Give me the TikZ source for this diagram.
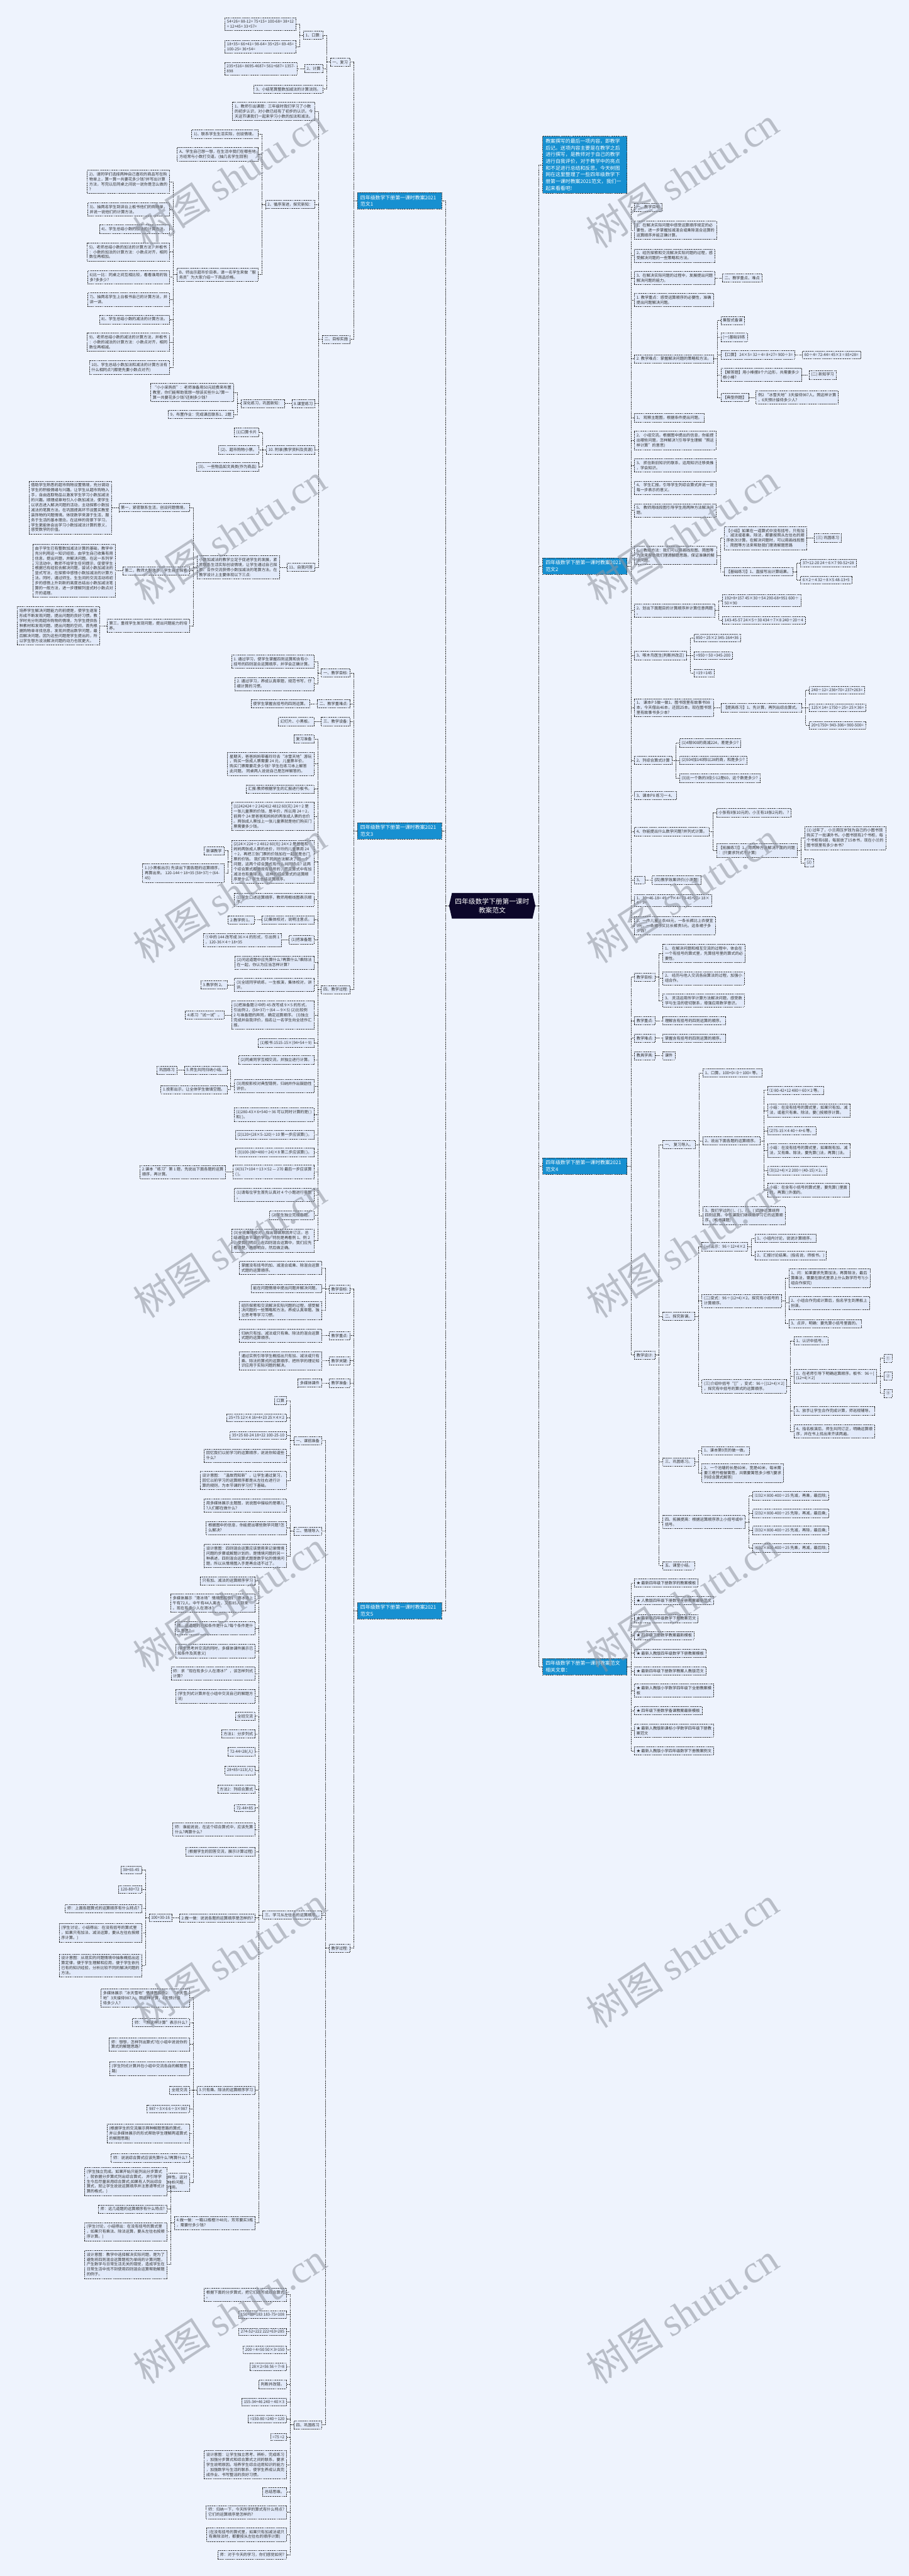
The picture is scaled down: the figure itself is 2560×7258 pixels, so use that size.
\documentclass[tikz,border=0pt]{standalone}
\usepackage{fontspec}
\setmainfont{Noto Sans CJK SC}
\newfontfamily\wmserif{Liberation Serif}
\usepackage{xcolor}
\usepackage{tikz}
\definecolor{TBg}{HTML}{EEF3FD}
\definecolor{TLeaf}{HTML}{E2EAFA}
\definecolor{TLine}{HTML}{2A2A2A}
\definecolor{TText}{HTML}{333333}
\definecolor{TBlue}{HTML}{1790D1}
\definecolor{TRoot}{HTML}{0C0729}
\definecolor{TMark}{HTML}{8E939E}

\begin{document}
\begin{tikzpicture}[
  x=1pt,y=-1pt,
  box/.style={draw=TLine,fill=TLeaf,line width=1.1pt,dash pattern=on 3pt off 2pt,
    text=TText,font=\fontsize{11}{14}\selectfont,align=left,
    inner xsep=6pt,inner ysep=6.5pt},
  lf/.style={box,anchor=east,xshift=-20pt},
  rf/.style={box,anchor=west,xshift=20pt},
  bl/.style={draw=TLine,fill=TBlue,line width=1.1pt,dash pattern=on 3pt off 2pt,
    text=white,font=\fontsize{14}{19}\selectfont,align=left,text width=221pt,
    inner xsep=8pt,inner ysep=7pt},
  blL/.style={bl,anchor=east,xshift=-20pt},
  blR/.style={bl,anchor=west,xshift=20pt},
  root/.style={text=white,font=\fontsize{19}{25}\selectfont,align=center,
    minimum width=243pt,minimum height=72pt,inner sep=0pt},
  cn/.style={draw=TLine,line width=1.1pt,dash pattern=on 3pt off 2pt},
  wm/.style={text=TMark,opacity=0.55,rotate=33,font=\fontsize{110}{110}\selectfont}
]
\useasboundingbox (0,0) rectangle (2560,7258);
\fill[TBg] (0,0) rectangle (2560,7258);

% centre
\fill[TRoot] (1273,2516) -- (1500,2516) -- (1508,2552) -- (1500,2588)
  -- (1273,2588) -- (1265,2552) -- cycle;
\node[root] (root) at (1386.5,2552) {四年级数学下册第一课时\\教案范文};

% ---------------- 范文1 ----------------
\node[blL] (f1) at (root.west |- 0,566) {四年级数学下册第一课时教案2021\\范文1};
\node[lf] (f1a) at (f1.west |- 0,175) {一、复习};
\node[lf] (f1a1) at (f1a.west |- 0,99) {1、口算:};
\node[lf] (f1a1a) at (f1a1.west |- 0,68) {54+26= 88-12= 75+15= 100-68= 38+12\\= 12+45= 33+57=};
\node[lf] (f1a1b) at (f1a1.west |- 0,131) {18+35= 66+41= 98-64= 35+25= 69-45=\\100-25= 36+54=};
\node[lf] (f1a2) at (f1a.west |- 0,193) {2、计算};
\node[lf] (f1a2a) at (f1a2.west |- 0,193) {235+516= 8695-4687= 561+687= 1357-\\898};
\node[lf] (f1a3) at (f1a.west |- 0,251) {3、小结笔算整数加减法的计算法则。};
\node[lf] (f1b) at (f1.west |- 0,956) {二、目标实施};
\node[lf] (f1b1) at (f1b.west |- 0,314) {1、教师引出课题：三年级时我们学习了小数\\的初步认识，对小数已经有了初步的认识。今\\天这节课我们一起来学习小数的加法和减法。};
\node[lf] (f1b2) at (f1b.west |- 0,576) {2、循序渐进，探究新知：};
\node[lf] (f1b2a) at (f1b2.west |- 0,378) {1)、联系学生生活实际，创设情境。};
\node[lf] (f1b2b) at (f1b2.west |- 0,435) {A、学生自己想一想，在生活中我们在哪些地\\方经常与小数打交道。(抽几名学生回答)};
\node[lf] (f1b2c) at (f1b2.west |- 0,774) {B、师出示超市价目表，请一名学生来做“服\\务员”为大家介绍一下商品价格。};
\node[lf] (f1b2c1) at (f1b2c.west |- 0,512) {2)、请同学们选择两种自己喜欢的商品写在购\\物单上，算一算一共要花多少钱?并写出计算\\方法，写完以后同桌之间说一说你是怎么做的\\?};
\node[lf] (f1b2c2) at (f1b2c.west |- 0,590) {3)、抽两名学生到讲台上板书他们的购物单，\\并说一说他们的计算方法。};
\node[lf] (f1b2c3) at (f1b2c.west |- 0,646) {4)、学生总结小数的加法的计算方法。};
\node[lf] (f1b2c4) at (f1b2c.west |- 0,710) {5)、老师总结小数的加法的计算方法，并板书\\：小数的加法的计算方法：小数点对齐，相同\\数位再相加。};
\node[lf] (f1b2c5) at (f1b2c.west |- 0,781) {6)比一比：同桌之间互相比较，看看谁用的钱\\多?多多少?};
\node[lf] (f1b2c6) at (f1b2c.west |- 0,844) {7)、抽两名学生上台板书自己的计算方法，并\\讲一讲。};
\node[lf] (f1b2c7) at (f1b2c.west |- 0,900) {8)、学生总结小数的减法的计算方法。};
\node[lf] (f1b2c8) at (f1b2c.west |- 0,964) {9)、老师总结小数的减法的计算方法，并板书\\：小数的减法的计算方法：小数点对齐，相同\\数位再相减。};
\node[lf] (f1b2c9) at (f1b2c.west |- 0,1035) {10)、学生总结小数加法和减法的计算方法有\\什么相同点?(都是先要小数点对齐)};
\node[lf] (f1b3) at (f1b.west |- 0,1137) {8.课堂练习};
\node[lf] (f1b3a) at (f1b3.west |- 0,1137) {深化练习，巩固新知：};
\node[lf] (f1b3a1) at (f1b3a.west |- 0,1106) {“小小采购员”：老师准备用50元班费来布置\\教室，你们能帮助我想一想该买些什么?算一\\算一共要花多少钱?还剩多少钱?};
\node[lf] (f1b3a2) at (f1b3a.west |- 0,1168) {9，布置作业：完成课后联系1、2题};
\node[lf] (f1b4) at (f1b.west |- 0,1267) {10. 附录(教学资料及资源)};
\node[lf] (f1b4a) at (f1b4.west |- 0,1218) {(1)口算卡片};
\node[lf] (f1b4b) at (f1b4.west |- 0,1267) {(2)、超市购物小票。};
\node[lf] (f1b4c) at (f1b4.west |- 0,1316) {(3)、一些物品如文具类(作为商品)};
\node[lf] (f1b5) at (f1b.west |- 0,1598) {11、自我问答};
\node[lf] (f1b5a) at (f1b5.west |- 0,1598) {小数加减法的教学立足于促进学生的发展，紧\\密联系生活实际创设情境，让学生通过自己探\\索、合作交流获得小数加减法的笔算方法。在\\教学设计上主要体现以下三点:};
\node[lf] (f1b5a1) at (f1b5a.west |- 0,1430) {第一，紧密联系生活，创设问题情境。};
\node[lf] (f1b5a1a) at (f1b5a1.west |- 0,1430) {借助学生熟悉的超市购物设置情境，充分调动\\学生的积极情绪与兴趣。让学生从超市购物入\\手，自由选取物品以激发学生学习小数加减法\\的兴趣。顺理成章地引入小数加减法，使学生\\以状态进入解决问题的活动，主动探索小数加\\减法的笔算方法。在巩固提高环节设置买教室\\装饰物的问题情境。体现数学来源于生活，服\\务于生活的基本理念。在这样的背景下学习，\\学生更能体会出学习小数加减法计算的意义，\\感受数学的价值。};
\node[lf] (f1b5a2) at (f1b5a.west |- 0,1608) {第二，教师大胆放手，学生自主探索};
\node[lf] (f1b5a2a) at (f1b5a2.west |- 0,1608) {由于学生已有整数加减法计算的基础，教学中\\充分利用这一知识经验，由学生自己收集有用\\信息，提出问题，并解决问题。在这一系列学\\习活动中，教师不给学生任何提示，促使学生\\根据已有经验去解决问题，尝试小数加减法的\\竖式写法，在探索中感悟小数加减法的计算方\\法。同时，通过师生、生生间的交流活动将初\\步的感悟上升到新的高度总结出小数加减法笔\\算的一般方法，进一步理解列竖式时小数点对\\齐的道理。};
\node[lf] (f1b5a3) at (f1b5a.west |- 0,1763) {第三，重视学生发现问题，提出问题能力的培\\养。};
\node[lf] (f1b5a3a) at (f1b5a3.west |- 0,1763) {培养学生解决问题能力的前提是，使学生逐渐\\形成不断发现问题，提出问题的良好习惯。教\\学时充分利用超市购物的情境，为学生提供各\\种素材和发现问题、提出问题的空间，首先根\\据购物单寻找信息，发现并提出数学问题，最\\后解决问题。因为这些问题是学生提出的，所\\以学生想方设法解决问题的动力也就更大。};

% ---------------- 范文3 ----------------
\node[blL] (f3) at (root.west |- 0,2341) {四年级数学下册第一课时教案2021\\范文3};
\node[lf] (f3a) at (f3.west |- 0,1896) {一、教学目标:};
\node[lf] (f3a1) at (f3a.west |- 0,1864) {1. 通过学习，使学生掌握四则运算和含有小\\括号的四则混合运算顺序，并学会正确计算。};
\node[lf] (f3a2) at (f3a.west |- 0,1927) {2. 通过学习，养成认真审题，规范书写，仔\\细计算的习惯。};
\node[lf] (f3b) at (f3.west |- 0,1983) {二、教学重难点:};
\node[lf] (f3b1) at (f3b.west |- 0,1983) {使学生掌握含括号的四则运算。};
\node[lf] (f3c) at (f3.west |- 0,2033) {三、教学设备:};
\node[lf] (f3c1) at (f3c.west |- 0,2033) {幻灯片、小黑板。};
\node[lf] (f3d) at (f3.west |- 0,2788) {四、教学过程:};
\node[lf] (f3d1) at (f3d.west |- 0,2082) {复习准备};
\node[lf] (f3d2) at (f3d.west |- 0,2152) {星期天，爸爸妈妈带着玲玲去“冰雪天地”游玩\\，购买一张成人票需要 24 元，儿童票半价。\\购买门票需要花多少钱? 学生在练习本上解答\\此问题。 同桌两人说说自己是怎样解答的。};
\node[lf] (f3d3) at (f3d.west |- 0,2223) {汇报:教师根据学生的汇报进行板书。};
\node[lf] (f3d4) at (f3d.west |- 0,2300) {(1)242424÷2 242412 4812 60(元) 24÷2 是\\一张儿童票的价钱，是半价，所以用 24÷2，\\前两个 24 是爸爸和妈妈的两张成人票的总价\\。两张成人票加上一张儿童票就是他们购买门\\票需要多少钱。};
\node[lf] (f3d5) at (f3d.west |- 0,2428) {(2)24×224÷2 4812 60(元) 24×2 是爸爸和\\妈妈两张成人票的总价，玲玲的儿童票用 24\\÷2，再把三张门票的价钱加在一起就是总门\\票的价钱。 我们用不同的方法解决了同一个\\问题，这两个综合算式有什么共同特点? 这两\\个综合算式都是没有括号的，而且算式中有加\\减法也有乘除法。 这样的综合算式的运算顺\\序是什么? 学生总结运算顺序。};
\node[lf] (f3d5a) at (f3d5.west |- 0,2397) {新课教学};
\node[lf] (f3d5b) at (f3d5.west |- 0,2460) {1.(小黑板出示) 先读出下面各题的运算顺序，\\再算出来。 120-144÷18+35 (58+37)÷(64-\\45)};
\node[lf] (f3d6) at (f3d.west |- 0,2535) {(1)学生口述运算顺序，教师用框线图表示顺\\序。};
\node[lf] (f3d7) at (f3d.west |- 0,2592) {(2)集体校对，说明注意点。};
\node[lf] (f3d7a) at (f3d7.west |- 0,2592) {2.教学例 1。};
\node[lf] (f3d8) at (f3d.west |- 0,2648) {(1)把准备题};
\node[lf] (f3d8a) at (f3d8.west |- 0,2648) {①中的 144 改写成 36×4 的形式，引出例 1\\，120-36×4÷18+35};
\node[lf] (f3d9) at (f3d.west |- 0,2712) {(2)问这道题中应先算什么?再算什么?乘除法\\在一起，你认为应当怎样计算?};
\node[lf] (f3d10) at (f3d.west |- 0,2775) {(3)全班同学统练，一生板演，集体校对，讲\\评。};
\node[lf] (f3d10a) at (f3d10.west |- 0,2775) {3.教学例 2。};
\node[lf] (f3d11) at (f3d.west |- 0,2860) {(1)把准备题②中的 45 改写成 9×5 的形式，\\引出例 2，(58+37)÷(64 — 9×5) (2)比较例\\2 与准备题的异同，确定运算顺序。 (3)独立\\完成并自我评价，指名让一名学生向全班作汇\\报。};
\node[lf] (f3d11a) at (f3d11.west |- 0,2860) {4.练习“试一试”。};
\node[lf] (f3d12) at (f3d.west |- 0,2938) {(1)板书:1515-15×(94+54÷9)};
\node[lf] (f3d13) at (f3d.west |- 0,2987) {(2)同桌同学互相交流，并独立进行计算。};
\node[lf] (f3d14) at (f3d.west |- 0,3060) {(3)用投影校对典型错例，归纳并作出鼓励性\\评价。};
\node[lf] (f3d14a) at (f3d14.west |- 0,3015) {5.师生共同归纳小结。};
\node[lf] (f3d14a1) at (f3d14a.west |- 0,3015) {巩固练习};
\node[lf] (f3d14b) at (f3d14.west |- 0,3070) {1.投影出示，让全体学生做填空题。};
\node[lf] (f3d15) at (f3d.west |- 0,3141) {(1)280-43×6+540÷36 可以同时计算的是( )\\和( )。};
\node[lf] (f3d16) at (f3d.west |- 0,3197) {(2)120+(28×5-120)÷10 第一步应该算( )。};
\node[lf] (f3d17) at (f3d.west |- 0,3247) {(3)100-(80+480÷24)×8 第二步应该算( )。};
\node[lf] (f3d18) at (f3d.west |- 0,3302) {(4)317+104÷13×52 — 270 最后一步应该算\\( )。};
\node[lf] (f3d18a) at (f3d18.west |- 0,3302) {2.课本“练习”第 1 题，先说出下面各题的运算\\顺序，再计算。};
\node[lf] (f3d19) at (f3d.west |- 0,3367) {(1)请每位学生首先认真对 4 个小题进行审题\\。};
\node[lf] (f3d20) at (f3d.west |- 0,3424) {(2)学生独立完成各题。};
\node[lf] (f3d21) at (f3d.west |- 0,3495) {(3)全班集体校对，指出错误原因并订正。总\\结通过本节课的学习，特别是再看例 1、例 2\\，使我们明白，在四则混合运算中，我们应先\\看清楚，再想明白，然后做正确。};

% ---------------- 范文5 ----------------
\node[blL] (f5) at (root.west |- 0,4538) {四年级数学下册第一课时教案2021\\范文5};
\node[lf] (f5a) at (f5.west |- 0,3632) {教学目标:};
\node[lf] (f5a1) at (f5a.west |- 0,3572) {掌握没有括号的加、减混合或乘、除混合运算\\式题的运算顺序。};
\node[lf] (f5a2) at (f5a.west |- 0,3630) {能在问题情境中提出问题并解决问题。};
\node[lf] (f5a3) at (f5a.west |- 0,3692) {经历探索和交流解决实际问题的过程，感受解\\决问题的一些策略和方法。养成认真审题、独\\立思考等学习习惯。};
\node[lf] (f5b) at (f5.west |- 0,3763) {教学重点:};
\node[lf] (f5b1) at (f5b.west |- 0,3763) {归纳只有加、减法或只有乘、除法的混合运算\\式题的运算顺序。};
\node[lf] (f5c) at (f5.west |- 0,3834) {教学关键:};
\node[lf] (f5c1) at (f5c.west |- 0,3834) {通过实例引导学生概括出只有加、减法或只有\\乘、除法的算式的运算顺序，把所学的理论知\\识应用于实际问题的解决。};
\node[lf] (f5d) at (f5.west |- 0,3897) {教学准备:};
\node[lf] (f5d1) at (f5d.west |- 0,3897) {多媒体课件};
\node[lf] (f5e) at (f5.west |- 0,5489) {教学过程:};
\node[lf] (f5e1) at (f5e.west |- 0,4059) {一、课前准备};
\node[lf] (f5e1a) at (f5e1.west |- 0,3946) {口算};
\node[lf] (f5e1b) at (f5e1.west |- 0,3995) {25+75 12×4 16+4+23 25×4×2};
\node[lf] (f5e1c) at (f5e1.west |- 0,4044) {35+25 60-24 18+22 100-25-10};
\node[lf] (f5e1d) at (f5e1.west |- 0,4101) {回忆我们以前学习的运算顺序，说说你知道些\\什么?};
\node[lf] (f5e1e) at (f5e1.west |- 0,4171) {设计意图：“温故而知新”，让学生通过复习，\\回忆以前学习的运算顺序都是从左往右进行计\\算的规则，为本节课的学习打下基础。};
\node[lf] (f5e2) at (f5e.west |- 0,4314) {二、情境导入};
\node[lf] (f5e2a) at (f5e2.west |- 0,4242) {用多媒体展示主题图，说说图中描绘的是哪儿\\?人们都在做什么?};
\node[lf] (f5e2b) at (f5e2.west |- 0,4305) {根据图中的信息，你能提出哪些数学问题?怎\\么解决?};
\node[lf] (f5e2c) at (f5e2.west |- 0,4384) {设计意图：四则混合运算应该是用来记录情境\\问题的步骤或解题计划的，是情境问题的另一\\种表述，四则混合运算式题是数字化的情境问\\题，所以从情境图入手是再合适不过了。};
\node[lf] (f5e3) at (f5e.west |- 0,5396) {三、学习从左往右的运算顺序。};
\node[lf] (f5e3a) at (f5e3.west |- 0,4454) {只有加、减法的运算顺序学习};
\node[lf] (f5e3b) at (f5e3.west |- 0,4517) {多媒体展示“滑冰场”情境图和例1：滑冰场上\\午有72人，中午有44人离去，又有85人到来\\。现在有多少人在滑冰?};
\node[lf] (f5e3c) at (f5e3.west |- 0,4588) {师：这道题的已知条件是什么?每个条件是什\\么意思?};
\node[lf] (f5e3d) at (f5e3.west |- 0,4652) {(学生思考并交流的同时，多媒体课件展示已\\知条件及其意义)};
\node[lf] (f5e3e) at (f5e3.west |- 0,4715) {师：求“现在有多少人在滑冰?”，该怎样列式\\计算?};
\node[lf] (f5e3f) at (f5e3.west |- 0,4779) {(学生列式计算并在小组中交流自己的解题方\\法)};
\node[lf] (f5e3g) at (f5e3.west |- 0,4835) {全班交流};
\node[lf] (f5e3h) at (f5e3.west |- 0,4885) {方法1：分步列式};
\node[lf] (f5e3i) at (f5e3.west |- 0,4935) {72-44=28(人)};
\node[lf] (f5e3j) at (f5e3.west |- 0,4988) {28+85=113(人)};
\node[lf] (f5e3k) at (f5e3.west |- 0,5041) {方法2：列综合算式};
\node[lf] (f5e3l) at (f5e3.west |- 0,5094) {72-44+85};
\node[lf] (f5e3m) at (f5e3.west |- 0,5155) {师：谁能说说，在这个综合算式中，应该先算\\什么?再算什么?};
\node[lf] (f5e3n) at (f5e3.west |- 0,5217) {(根据学生的回答交流，展示计算过程)};
\node[lf] (f5e3o) at (f5e3.west |- 0,5404) {2.做一做：说说各题的运算顺序是怎样的?};
\node[lf] (f5e3o1) at (f5e3o.west |- 0,5404) {100+30-16};
\node[lf] (f5e3o1a) at (f5e3o1.west |- 0,5269) {38+65-45};
\node[lf] (f5e3o1b) at (f5e3o1.west |- 0,5323) {120-80+72};
\node[lf] (f5e3o1c) at (f5e3o1.west |- 0,5377) {师：上面各题算式的运算顺序有什么特点?};
\node[lf] (f5e3o1d) at (f5e3o1.west |- 0,5446) {(学生讨论，小结得出：在没有括号的算式里\\，如果只有加法、减法运算，要从左往右按顺\\序计算。)};
\node[lf] (f5e3o1e) at (f5e3o1.west |- 0,5538) {设计意图：从现实的问题情境中抽象概括出运\\算定律，便于学生理解和应用，便于学生依托\\已有的知识经验，分析比较不同的解决问题的\\方法。};
\node[lf] (f5e3p) at (f5e3.west |- 0,5889) {3.只有乘、除法的运算顺序学习};
\node[lf] (f5e3p1) at (f5e3p.west |- 0,5629) {多媒体展示“冰天雪地”情境图和例2：“冰天雪\\地”3天接待987人，照这样计算，6天预计接\\待多少人?};
\node[lf] (f5e3p2) at (f5e3p.west |- 0,5699) {师：“照这样计算”表示什么?};
\node[lf] (f5e3p3) at (f5e3p.west |- 0,5760) {师：想想，怎样列出算式?在小组中说说你的\\算式的解题思路?};
\node[lf] (f5e3p4) at (f5e3p.west |- 0,5828) {(学生列式计算并在小组中交流各自的解题思\\路)};
\node[lf] (f5e3p5) at (f5e3p.west |- 0,5889) {全班交流};
\node[lf] (f5e3p6) at (f5e3p.west |- 0,5942) {987÷3×6 6÷3×987};
\node[lf] (f5e3p7) at (f5e3p.west |- 0,6011) {(根据学生的交流展示两种解题思路的算式，\\并以多媒体展示的形式帮助学生理解两道算式\\的解题思路)};
\node[lf] (f5e3p8) at (f5e3p.west |- 0,6080) {师：说说综合算式应该先算什么?再算什么?};
\node[lf] (f5e3p9) at (f5e3p.west |- 0,6149) {设计意图：注意解决问题策略的多样性。这对\\发展学生思维的灵活性，提高学生分析问题、\\解决问题的能力，都有一定的促进作用。};
\node[lf] (f5e3q) at (f5e3.west |- 0,6263) {4.做一做：一箱12瓶橙汁48元，芳芳要买3瓶\\，需要付多少钱?};
\node[lf] (f5e3q1) at (f5e3q.west |- 0,6147) {(学生独立完成。如果开始只能列出分步算式\\，就依据分步算式列出综合算式， 并引导学\\生今后尽量采用综合算式;如果有人列出综合\\算式，就让学生说说运算顺序并注意递等式计\\算的格式。)};
\node[lf] (f5e3q2) at (f5e3q.west |- 0,6224) {师：这几道题的运算顺序有什么特点?};
\node[lf] (f5e3q3) at (f5e3q.west |- 0,6288) {(学生讨论，小结得出：在没有括号的算式里\\，如果只有乘法、除法运算，要从左往右按顺\\序计算。)};
\node[lf] (f5e3q4) at (f5e3q.west |- 0,6380) {设计意图：教学中选择解决实际问题，是为了\\避免将四则混合运算题视为单纯的计算问题，\\产生数学与日常生活无关的错觉，造成学生在\\日常生活中找不到使用四则混合运算帮助解题\\的例子。};
\node[lf] (f5e4) at (f5e.west |- 0,6832) {四、巩固练习};
\node[lf] (f5e4a) at (f5e4.west |- 0,6465) {根据下面的分步算式，把它们改写成综合算式\\。};
\node[lf] (f5e4b) at (f5e4.west |- 0,6522) {150+33=183 183-75=108};
\node[lf] (f5e4c) at (f5e4.west |- 0,6570) {274-52=222 222+63=285};
\node[lf] (f5e4d) at (f5e4.west |- 0,6620) {200÷4=50 50×3=150};
\node[lf] (f5e4e) at (f5e4.west |- 0,6669) {28×2=56 56÷7=8};
\node[lf] (f5e4f) at (f5e4.west |- 0,6718) {判断并改错。};
\node[lf] (f5e4g) at (f5e4.west |- 0,6767) {155-34+46 240÷40×3};
\node[lf] (f5e4h) at (f5e4.west |- 0,6816) {=150-80 =240÷120};
\node[lf] (f5e4i) at (f5e4.west |- 0,6866) {=75 =2};
\node[lf] (f5e4j) at (f5e4.west |- 0,6944) {设计意图：让学生独立思考、辨析，完成练习\\，加强分步算式和综合算式之间的联系，要求\\学生说明原因。培养学生综合运用知识的能力\\，加强数学与生活的联系，使学生养成认真完\\成作业、书写整洁的良好习惯。};
\node[lf] (f5e4k) at (f5e4.west |- 0,7021) {总结思维。};
\node[lf] (f5e4l) at (f5e4.west |- 0,7078) {师：归纳一下，今天所学的算式有什么特点?\\它们的运算顺序是怎样的?};
\node[lf] (f5e4m) at (f5e4.west |- 0,7141) {(在没有括号的算式里，如果只有加减法或只\\有乘除法时，都要按从左往右的顺序计算)};
\node[lf] (f5e4n) at (f5e4.west |- 0,7198) {师：对于今天的学习，你们感觉如何?};

% ---------------- 导语 ----------------
\node[blR] (intro) at (root.east |- 0,464) {教案撰写的最后一项内容，即教学\\后记。送项内容主要是在教学之后\\进行撰写，是教师对于自己的教学\\进行自我评价，对于教学中的亮点\\和不足进行总结和反思。今天树图\\网在这里整理了一些四年级数学下\\册第一课时教案2021范文，我们一\\起来看看吧!};

% ---------------- 范文2 ----------------
\node[blR] (f2) at (root.east |- 0,1595) {四年级数学下册第一课时教案2021\\范文2};
\node[rf] (f2a) at (f2.east |- 0,584) {一、教学目标};
\node[rf] (f2b) at (f2.east |- 0,649) {1、在解决实际问题中感受运算顺序规定的必\\要性，进一步掌握加减混合或乘除混合运算的\\运算顺序并能正确计算。};
\node[rf] (f2c) at (f2.east |- 0,720) {2、经历探索和交流解决实际问题的过程，感\\受解决问题的一些策略和方法。};
\node[rf] (f2d) at (f2.east |- 0,783) {3、在解决实际问题的过程中，发展提出问题\\解决问题的能力。};
\node[rf] (f2d1) at (f2d.east |- 0,783) {二、教学重点、难点};
\node[rf] (f2e) at (f2.east |- 0,845) {1. 教学重点：感受运算顺序的必要性，准确\\提出问题解决问题。};
\node[rf] (f2f) at (f2.east |- 0,1011) {2. 教学难点：掌握解决问题的策略和方法。};
\node[rf] (f2f1) at (f2f.east |- 0,903) {集智式备课};
\node[rf] (f2f2) at (f2f.east |- 0,951) {(一)基础训练};
\node[rf] (f2f3) at (f2f.east |- 0,1000) {【口算】 24×5= 32÷4= 8+27= 900÷3=};
\node[rf] (f2f3a) at (f2f3.east |- 0,1000) {60÷4= 72-44= 45×3 = 85+28=};
\node[rf] (f2f4) at (f2f.east |- 0,1056) {【解答题】用小棒摆8个六边形，共需要多少\\根小棒?};
\node[rf] (f2f4a) at (f2f4.east |- 0,1056) {(二) 新知学习};
\node[rf] (f2f5) at (f2f.east |- 0,1120) {【典型例题】};
\node[rf] (f2f5a) at (f2f5.east |- 0,1120) {例2 “冰雪天地”3天接待987人。照这样计算\\，6天预计接待多少人?};
\node[rf] (f2g) at (f2.east |- 0,1177) {1、 观察主题图，根据条件提出问题。};
\node[rf] (f2h) at (f2.east |- 0,1241) {2、 小组交流。根据图中提出的信息，你能提\\出哪些问题，怎样解决?(引导学生理解“照这\\样计算”的意思)};
\node[rf] (f2i) at (f2.east |- 0,1311) {3、 抓住新旧知识的联系，运用知识迁移类推\\，学会知识。};
\node[rf] (f2j) at (f2.east |- 0,1374) {4、 学生汇报。引导学生列综合算式并说一说\\每一步表示的意义。};
\node[rf] (f2k) at (f2.east |- 0,1438) {5、 教师用线段图引导学生用两种方法解决问\\题。};
\node[rf] (f2l) at (f2.east |- 0,1565) {6、 教给方法：我们可以用画线段图、简图等\\方法来帮助我们理清解题思路，保证准确的解\\决问题。};
\node[rf] (f2l1) at (f2l.east |- 0,1516) {【小结】如果在一道算式中没有括号，只有加\\、减法或者乘、除法，都要按照从左往右的顺\\序依次计算。在解决问题时，可以用画线段图\\、简图等方法来帮助我们理清解题思路};
\node[rf] (f2l1a) at (f2l1.east |- 0,1516) {(三) 巩固练习};
\node[rf] (f2l2) at (f2l.east |- 0,1611) {【基础练习】1、直接写出计算结果。};
\node[rf] (f2l2a) at (f2l2.east |- 0,1587) {37+12-20 24÷6×7 90-52+28};
\node[rf] (f2l2b) at (f2l2.east |- 0,1635) {6×2÷4 32÷8×5 48-13+5};
\node[rf] (f2m) at (f2.east |- 0,1720) {2、划出下面题目的计算顺序并计算任意两题\\。};
\node[rf] (f2m1) at (f2m.east |- 0,1692) {192+8+157 45×30÷54 290-68+951 600÷\\50×90};
\node[rf] (f2m2) at (f2m.east |- 0,1748) {143-45-57 24×5÷30 434÷7×8 240÷20÷4};
\node[rf] (f2n) at (f2.east |- 0,1847) {3、啄木鸟医生(判断并改正)};
\node[rf] (f2n1) at (f2n.east |- 0,1798) {850÷25×2 345-164+36};
\node[rf] (f2n2) at (f2n.east |- 0,1847) {=950÷50 =345-200};
\node[rf] (f2n3) at (f2n.east |- 0,1896) {=19 =145};
\node[rf] (f2o) at (f2.east |- 0,1994) {1、 课本P 5做一做1、图书馆里有故事书98\\本，今天借出46本，还回25本。现在图书馆\\里有故事书多少本?};
\node[rf] (f2o1) at (f2o.east |- 0,1994) {【提高练习】1、先计算，再列出综合算式。};
\node[rf] (f2o1a) at (f2o1.east |- 0,1945) {240÷12= 236+70= 237+263=};
\node[rf] (f2o1b) at (f2o1.east |- 0,1994) {125×14= 1750÷25= 25×36=};
\node[rf] (f2o1c) at (f2o1.east |- 0,2043) {20+1750= 943-306= 900-500=};
\node[rf] (f2p) at (f2.east |- 0,2142) {2、列综合算式计算};
\node[rf] (f2p1) at (f2p.east |- 0,2093) {(1)4除900的商减224，差是多少?};
\node[rf] (f2p2) at (f2p.east |- 0,2142) {(2)504加140除以28的商，和是多少?};
\node[rf] (f2p3) at (f2p.east |- 0,2192) {(3)比一个数的3倍少12是60，这个数是多少?};
\node[rf] (f2q) at (f2.east |- 0,2241) {3、课本P8 练习一 4、};
\node[rf] (f2r) at (f2.east |- 0,2343) {4、你能提出什么数学问题?并列式计算。};
\node[rf] (f2r1) at (f2r.east |- 0,2290) {小张有8张10元的，小王有18张2元的。 ?};
\node[rf] (f2r2) at (f2r.east |- 0,2396) {【拓展练习】1、用两种方法解决下面的问题\\：(只要求列式不计算)};
\node[rf] (f2r2a) at (f2r2.east |- 0,2361) {(1) 过年了，小兰用压岁钱为自己的小图书馆\\购买了一批课外书。小图书馆有2个书柜，每\\个书柜有6层，每层放了15本书，现在小兰的\\图书馆里有多少本书?};
\node[rf] (f2r2b) at (f2r2.east |- 0,2431) {(2)};
\node[rf] (f2s) at (f2.east |- 0,2480) {3、};
\node[rf] (f2sa) at (f2s.east |- 0,2480) {(四)教学效果评价(小测题)};
\node[rf] (f2t) at (f2.east |- 0,2537) {1、39+46-18= 49÷7×4= 73-45+27= 18×\\4÷9=};
\node[rf] (f2u) at (f2.east |- 0,2608) {2、一件儿童上衣48元，一条长裤比上衣便宜\\9元，一条裙子又比长裤贵5元。这条裙子多\\少钱?};

% ---------------- 范文4 ----------------
\node[blR] (f4) at (root.east |- 0,3285) {四年级数学下册第一课时教案2021\\范文4};
\node[rf] (f4a) at (f4.east |- 0,2753) {教学目标:};
\node[rf] (f4a1) at (f4a.east |- 0,2686) {1、 在解决问题和相互交流的过程中，体会在\\一个有括号的算式里，先算括号里的算式的必\\要性。};
\node[rf] (f4a2) at (f4a.east |- 0,2756) {2、 经历与他人交流各自算法的过程，加强小\\组合作。};
\node[rf] (f4a3) at (f4a.east |- 0,2819) {3、 灵活运用所学计算方法解决问题，感受数\\学与生活的密切联系，增强应用数学意识。};
\node[rf] (f4b) at (f4.east |- 0,2876) {教学重点:};
\node[rf] (f4b1) at (f4b.east |- 0,2876) {理解含有括号的四则运算的顺序。};
\node[rf] (f4c) at (f4.east |- 0,2925) {教学难点:};
\node[rf] (f4c1) at (f4c.east |- 0,2925) {掌握含有括号的四则运算的顺序。};
\node[rf] (f4d) at (f4.east |- 0,2974) {教具学具:};
\node[rf] (f4d1) at (f4d.east |- 0,2974) {课件};
\node[rf] (f4e) at (f4.east |- 0,3818) {教学设计:};
\node[rf] (f4e1) at (f4e.east |- 0,3225) {一、 复习导入。};
\node[rf] (f4e1a) at (f4e1.east |- 0,3023) {1、口算。100+0= 0÷100= 等。};
\node[rf] (f4e1b) at (f4e1.east |- 0,3214) {2、说出下面各题的运算顺序。};
\node[rf] (f4e1b1) at (f4e1b.east |- 0,3072) {⑴ 80-42+12 480÷60×2 等。};
\node[rf] (f4e1b2) at (f4e1b.east |- 0,3129) {小结：在没有括号的算式里，如果只有加、减\\法，或者只有乘、除法，要( )按顺序计算。};
\node[rf] (f4e1b3) at (f4e1b.east |- 0,3186) {⑵75-15×4 40÷4+6 等。};
\node[rf] (f4e1b4) at (f4e1b.east |- 0,3242) {小结：在没有括号的算式里，如果既有加、减\\法，又有乘、除法，要先算( )法，再算( )法。};
\node[rf] (f4e1b5) at (f4e1b.east |- 0,3298) {⑶(12+4)×2 200÷(40-15)×2。};
\node[rf] (f4e1b6) at (f4e1b.east |- 0,3353) {小结：在含有小括号的算式里，要先算( )里面\\的，再算( )外面的。};
\node[rf] (f4e1c) at (f4e1.east |- 0,3425) {3、我们学过的( )、( )、( )、( )四种运算统称\\四则运算。今节课我们继续来学习它的运算顺\\序。(板书课题)};
\node[rf] (f4e2) at (f4e.east |- 0,3709) {二、探究新课。};
\node[rf] (f4e2a) at (f4e2.east |- 0,3513) {(一)出示：96÷12+4×2};
\node[rf] (f4e2a1) at (f4e2a.east |- 0,3489) {1、小组内讨论，说说计算顺序。};
\node[rf] (f4e2a2) at (f4e2a.east |- 0,3538) {2、汇报讨论结果。(指名说，师板书。)};
\node[rf] (f4e2b) at (f4e2.east |- 0,3665) {(二)变式：96÷(12+4)×2。探究有小括号的\\计算顺序。};
\node[rf] (f4e2b1) at (f4e2b.east |- 0,3601) {1、问：如果要求先算加法，再算除法，最后\\算乘法，需要在原式里添上什么数学符号?(小\\组合作探究)};
\node[rf] (f4e2b2) at (f4e2b.east |- 0,3671) {2、小组合作完成计算后，指名学生到黑板上\\扮演。};
\node[rf] (f4e2b3) at (f4e2b.east |- 0,3729) {3、点评，明确：要先算小括号里面的。};
\node[rf] (f4e2c) at (f4e2.east |- 0,3906) {(三)介绍中括号“[]”，变式：96÷[(12+4)×2]\\，探究有中括号的算式的运算顺序。};
\node[rf] (f4e2c1) at (f4e2c.east |- 0,3778) {1、认识中括号。};
\node[rf] (f4e2c2) at (f4e2c.east |- 0,3877) {2、在老师引导下明确运算顺序。板书：96÷[\\(12+4)×2]};
\node[rf] (f4e2c2a) at (f4e2c2.east |- 0,3827) {①};
\node[rf] (f4e2c2b) at (f4e2c2.east |- 0,3877) {②};
\node[rf] (f4e2c2c) at (f4e2c2.east |- 0,3926) {③};
\node[rf] (f4e2c3) at (f4e2c.east |- 0,3975) {3、放手让学生合作完成计算，师巡视辅导。};
\node[rf] (f4e2c4) at (f4e2c.east |- 0,4033) {4、指名板演后，师生共同订正，明确运算顺\\序，并在书上找出来齐读两遍。};
\node[rf] (f4e3) at (f4e.east |- 0,4119) {三、巩固练习。};
\node[rf] (f4e3a) at (f4e3.east |- 0,4087) {1、课本第9页的做一做。};
\node[rf] (f4e3b) at (f4e3.east |- 0,4150) {2、一个池塘的长是60米，宽是40米，每米需\\要三根竹棍做篱笆，共需要篱笆多少根?(要求\\列综合算式解答)};
\node[rf] (f4e4) at (f4e.east |- 0,4288) {四、拓展提高：根据运算顺序添上小括号或中\\括号。};
\node[rf] (f4e4a) at (f4e4.east |- 0,4214) {⑴32×800-400÷25 先减，再乘，最后除;};
\node[rf] (f4e4b) at (f4e4.east |- 0,4264) {⑵32×800-400÷25 先除，再减，最后乘;};
\node[rf] (f4e4c) at (f4e4.east |- 0,4312) {⑶32×800-400÷25 先减，再除，最后乘;};
\node[rf] (f4e4d) at (f4e4.east |- 0,4362) {⑷32×800-400÷25 先乘，再减，最后除;};
\node[rf] (f4e5) at (f4e.east |- 0,4411) {五、课堂小结。};

% ---------------- 相关文章 ----------------
\node[blR] (f6) at (root.east |- 0,4696) {四年级数学下册第一课时教案范文\\相关文章：};
\node[rf] (f6a) at (f6.east |- 0,4460) {★ 最新四年级下册数学的教案模板};
\node[rf] (f6b) at (f6.east |- 0,4510) {★ 人教版四年级下册数学全册教案最新范文};
\node[rf] (f6c) at (f6.east |- 0,4560) {★ 最新新四年级数学下册教案范文};
\node[rf] (f6d) at (f6.east |- 0,4608) {★ 四年级下册数学教案最新模板};
\node[rf] (f6e) at (f6.east |- 0,4658) {★ 最新人教版四年级数学下册教案模板};
\node[rf] (f6f) at (f6.east |- 0,4708) {★ 最新四年级下册数学教案人教版范文};
\node[rf] (f6g) at (f6.east |- 0,4763) {★ 最新人教版小学数学四年级下全册教案模\\板};
\node[rf] (f6h) at (f6.east |- 0,4820) {★ 四年级下册数学备课教案最新模板};
\node[rf] (f6i) at (f6.east |- 0,4876) {★ 最新人教版新课标小学数学四年级下册教\\案范文};
\node[rf] (f6j) at (f6.east |- 0,4933) {★ 最新人教版小学四年级数学下册教案例文};

% ---------------- connectors ----------------
\foreach \c in {f1,f3,f5} \draw[cn] (root.west) -- ++(-10,0) |- (\c.east);
\foreach \c in {intro,f2,f4,f6} \draw[cn] (root.east) -- ++(10,0) |- (\c.west);

\foreach \c in {f1a,f1b} \draw[cn] (f1.west) -- ++(-10,0) |- (\c.east);
\foreach \c in {f1a1,f1a2,f1a3} \draw[cn] (f1a.west) -- ++(-10,0) |- (\c.east);
\foreach \c in {f1a1a,f1a1b} \draw[cn] (f1a1.west) -- ++(-10,0) |- (\c.east);
\draw[cn] (f1a2.west) -- (f1a2a.east);
\foreach \c in {f1b1,f1b2,f1b3,f1b4,f1b5} \draw[cn] (f1b.west) -- ++(-10,0) |- (\c.east);
\foreach \c in {f1b2a,f1b2b,f1b2c} \draw[cn] (f1b2.west) -- ++(-10,0) |- (\c.east);
\foreach \i in {1,...,9} \draw[cn] (f1b2c.west) -- ++(-10,0) |- (f1b2c\i.east);
\draw[cn] (f1b3.west) -- (f1b3a.east);
\foreach \c in {f1b3a1,f1b3a2} \draw[cn] (f1b3a.west) -- ++(-10,0) |- (\c.east);
\foreach \c in {f1b4a,f1b4b,f1b4c} \draw[cn] (f1b4.west) -- ++(-10,0) |- (\c.east);
\draw[cn] (f1b5.west) -- (f1b5a.east);
\foreach \c in {f1b5a1,f1b5a2,f1b5a3} \draw[cn] (f1b5a.west) -- ++(-10,0) |- (\c.east);
\foreach \c in {f1b5a1,f1b5a2,f1b5a3} \draw[cn] (\c.west) -- (\c a.east);

\foreach \c in {f3a,f3b,f3c,f3d} \draw[cn] (f3.west) -- ++(-10,0) |- (\c.east);
\foreach \c in {f3a1,f3a2} \draw[cn] (f3a.west) -- ++(-10,0) |- (\c.east);
\draw[cn] (f3b.west) -- (f3b1.east);
\draw[cn] (f3c.west) -- (f3c1.east);
\foreach \i in {1,...,21} \draw[cn] (f3d.west) -- ++(-10,0) |- (f3d\i.east);
\foreach \c in {f3d5a,f3d5b} \draw[cn] (f3d5.west) -- ++(-10,0) |- (\c.east);
\foreach \p in {f3d7,f3d8,f3d10,f3d11,f3d18} \draw[cn] (\p.west) -- (\p a.east);
\foreach \c in {f3d14a,f3d14b} \draw[cn] (f3d14.west) -- ++(-10,0) |- (\c.east);
\draw[cn] (f3d14a.west) -- (f3d14a1.east);

\foreach \c in {f5a,f5b,f5c,f5d,f5e} \draw[cn] (f5.west) -- ++(-10,0) |- (\c.east);
\foreach \c in {f5a1,f5a2,f5a3} \draw[cn] (f5a.west) -- ++(-10,0) |- (\c.east);
\foreach \p in {f5b,f5c,f5d} \draw[cn] (\p.west) -- (\p 1.east);
\foreach \c in {f5e1,f5e2,f5e3,f5e4} \draw[cn] (f5e.west) -- ++(-10,0) |- (\c.east);
\foreach \c in {a,b,c,d,e} \draw[cn] (f5e1.west) -- ++(-10,0) |- (f5e1\c.east);
\foreach \c in {a,b,c} \draw[cn] (f5e2.west) -- ++(-10,0) |- (f5e2\c.east);
\foreach \c in {a,b,c,d,e,f,g,h,i,j,k,l,m,n,o,p,q} \draw[cn] (f5e3.west) -- ++(-10,0) |- (f5e3\c.east);
\draw[cn] (f5e3o.west) -- (f5e3o1.east);
\foreach \c in {a,b,c,d,e} \draw[cn] (f5e3o1.west) -- ++(-10,0) |- (f5e3o1\c.east);
\foreach \i in {1,...,9} \draw[cn] (f5e3p.west) -- ++(-10,0) |- (f5e3p\i.east);
\foreach \i in {1,...,4} \draw[cn] (f5e3q.west) -- ++(-10,0) |- (f5e3q\i.east);
\foreach \c in {a,b,c,d,e,f,g,h,i,j,k,l,m,n} \draw[cn] (f5e4.west) -- ++(-10,0) |- (f5e4\c.east);

\foreach \c in {a,b,c,d,e,f,g,h,i,j,k,l,m,n,o,p,q,r,s,t,u} \draw[cn] (f2.east) -- ++(11,0) |- (f2\c.west);
\draw[cn] (f2d.east) -- (f2d1.west);
\foreach \i in {1,...,5} \draw[cn] (f2f.east) -- ++(10,0) |- (f2f\i.west);
\foreach \p in {f2f3,f2f4,f2f5,f2l1,f2s} \draw[cn] (\p.east) -- (\p a.west);
\foreach \c in {f2l1,f2l2} \draw[cn] (f2l.east) -- ++(10,0) |- (\c.west);
\foreach \c in {a,b} \draw[cn] (f2l2.east) -- ++(10,0) |- (f2l2\c.west);
\foreach \i in {1,2} \draw[cn] (f2m.east) -- ++(10,0) |- (f2m\i.west);
\foreach \i in {1,2,3} \draw[cn] (f2n.east) -- ++(10,0) |- (f2n\i.west);
\draw[cn] (f2o.east) -- (f2o1.west);
\foreach \c in {a,b,c} \draw[cn] (f2o1.east) -- ++(10,0) |- (f2o1\c.west);
\foreach \i in {1,2,3} \draw[cn] (f2p.east) -- ++(10,0) |- (f2p\i.west);
\foreach \i in {1,2} \draw[cn] (f2r.east) -- ++(10,0) |- (f2r\i.west);
\foreach \c in {a,b} \draw[cn] (f2r2.east) -- ++(10,0) |- (f2r2\c.west);

\foreach \c in {a,b,c,d,e} \draw[cn] (f4.east) -- ++(11,0) |- (f4\c.west);
\foreach \i in {1,2,3} \draw[cn] (f4a.east) -- ++(10,0) |- (f4a\i.west);
\foreach \p in {f4b,f4c,f4d} \draw[cn] (\p.east) -- (\p 1.west);
\foreach \i in {1,...,5} \draw[cn] (f4e.east) -- ++(10,0) |- (f4e\i.west);
\foreach \c in {a,b,c} \draw[cn] (f4e1.east) -- ++(10,0) |- (f4e1\c.west);
\foreach \i in {1,...,6} \draw[cn] (f4e1b.east) -- ++(10,0) |- (f4e1b\i.west);
\foreach \c in {a,b,c} \draw[cn] (f4e2.east) -- ++(10,0) |- (f4e2\c.west);
\foreach \i in {1,2} \draw[cn] (f4e2a.east) -- ++(10,0) |- (f4e2a\i.west);
\foreach \i in {1,2,3} \draw[cn] (f4e2b.east) -- ++(10,0) |- (f4e2b\i.west);
\foreach \i in {1,...,4} \draw[cn] (f4e2c.east) -- ++(10,0) |- (f4e2c\i.west);
\foreach \c in {a,b,c} \draw[cn] (f4e2c2.east) -- ++(10,0) |- (f4e2c2\c.west);
\foreach \c in {a,b} \draw[cn] (f4e3.east) -- ++(10,0) |- (f4e3\c.west);
\foreach \c in {a,b,c,d} \draw[cn] (f4e4.east) -- ++(10,0) |- (f4e4\c.west);

\foreach \c in {a,b,c,d,e,f,g,h,i,j} \draw[cn] (f6.east) -- ++(11,0) |- (f6\c.west);

% watermark
\foreach \y [count=\i] in {500,1505,2515,3515,4512,5515,6518} {
  \node[wm] (wmL\i) at (647,\y) {树图 {\wmserif shutu.cn}};
  \node[wm] (wmR\i) at (1922,\y) {树图 {\wmserif shutu.cn}};
}
\end{tikzpicture}
\end{document}
